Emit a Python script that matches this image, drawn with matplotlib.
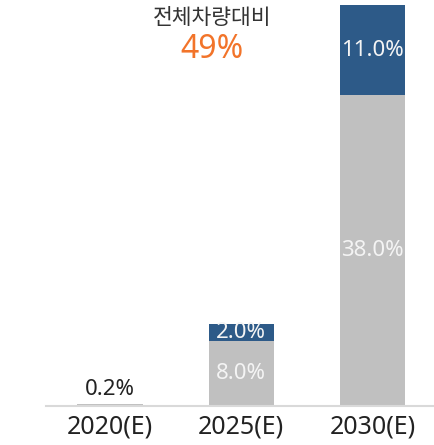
import matplotlib
matplotlib.use("Agg")
import matplotlib.pyplot as plt

plt.rcParams['font.family'] = ['Noto Sans', 'Noto Sans CJK KR', 'DejaVu Sans']

years = ['2020(E)', '2025(E)', '2030(E)']
base = [0.2, 8.0, 38.0]
top = [0.0, 2.0, 11.0]
total_label = '49%'
total_title = '전체차량대비'

GRAY = '#c0c0c0'
BLUE = '#2d5a88'
ORANGE = '#f2742a'

fig = plt.figure(figsize=(4.34, 4.45), dpi=100)
ax = fig.add_axes([46 / 434, 39 / 445, 388 / 434, 401 / 445])

x = list(range(len(years)))
ax.bar(x, base, width=0.5, color=GRAY)
ax.bar(x, top, width=0.5, bottom=base, color=BLUE)

for i in x:
    if base[i] < 1:
        ax.text(i, base[i] + 1.2, f'{base[i]:.1f}%', ha='center', va='baseline',
                fontsize=16, color='#222222')
    else:
        ax.text(i, base[i] / 2, f'{base[i]:.1f}%', ha='center', va='center',
                fontsize=16, color='#f4f4f4')
    if top[i] > 0:
        ax.text(i, base[i] + top[i] / 2, f'{top[i]:.1f}%', ha='center', va='center',
                fontsize=16, color='#f4f4f4')

ax.text(0.78, 47.4, total_title, ha='center', va='center', fontsize=15.5, color='#333333')
ax.text(0.78, 43.6, total_label, ha='center', va='center', fontsize=23, color=ORANGE)

ax.set_xlim(-0.49, 2.47)
ax.set_ylim(0, 49)
ax.set_xticks(x)
ax.set_xticklabels(years, fontsize=18, color='#222222')
ax.tick_params(axis='x', length=0, pad=6)
ax.set_yticks([])
for s in ['top', 'right', 'left']:
    ax.spines[s].set_visible(False)
ax.spines['bottom'].set_color('#d9d9d9')
ax.spines['bottom'].set_linewidth(1.5)

fig.savefig('out.png', dpi=100)
